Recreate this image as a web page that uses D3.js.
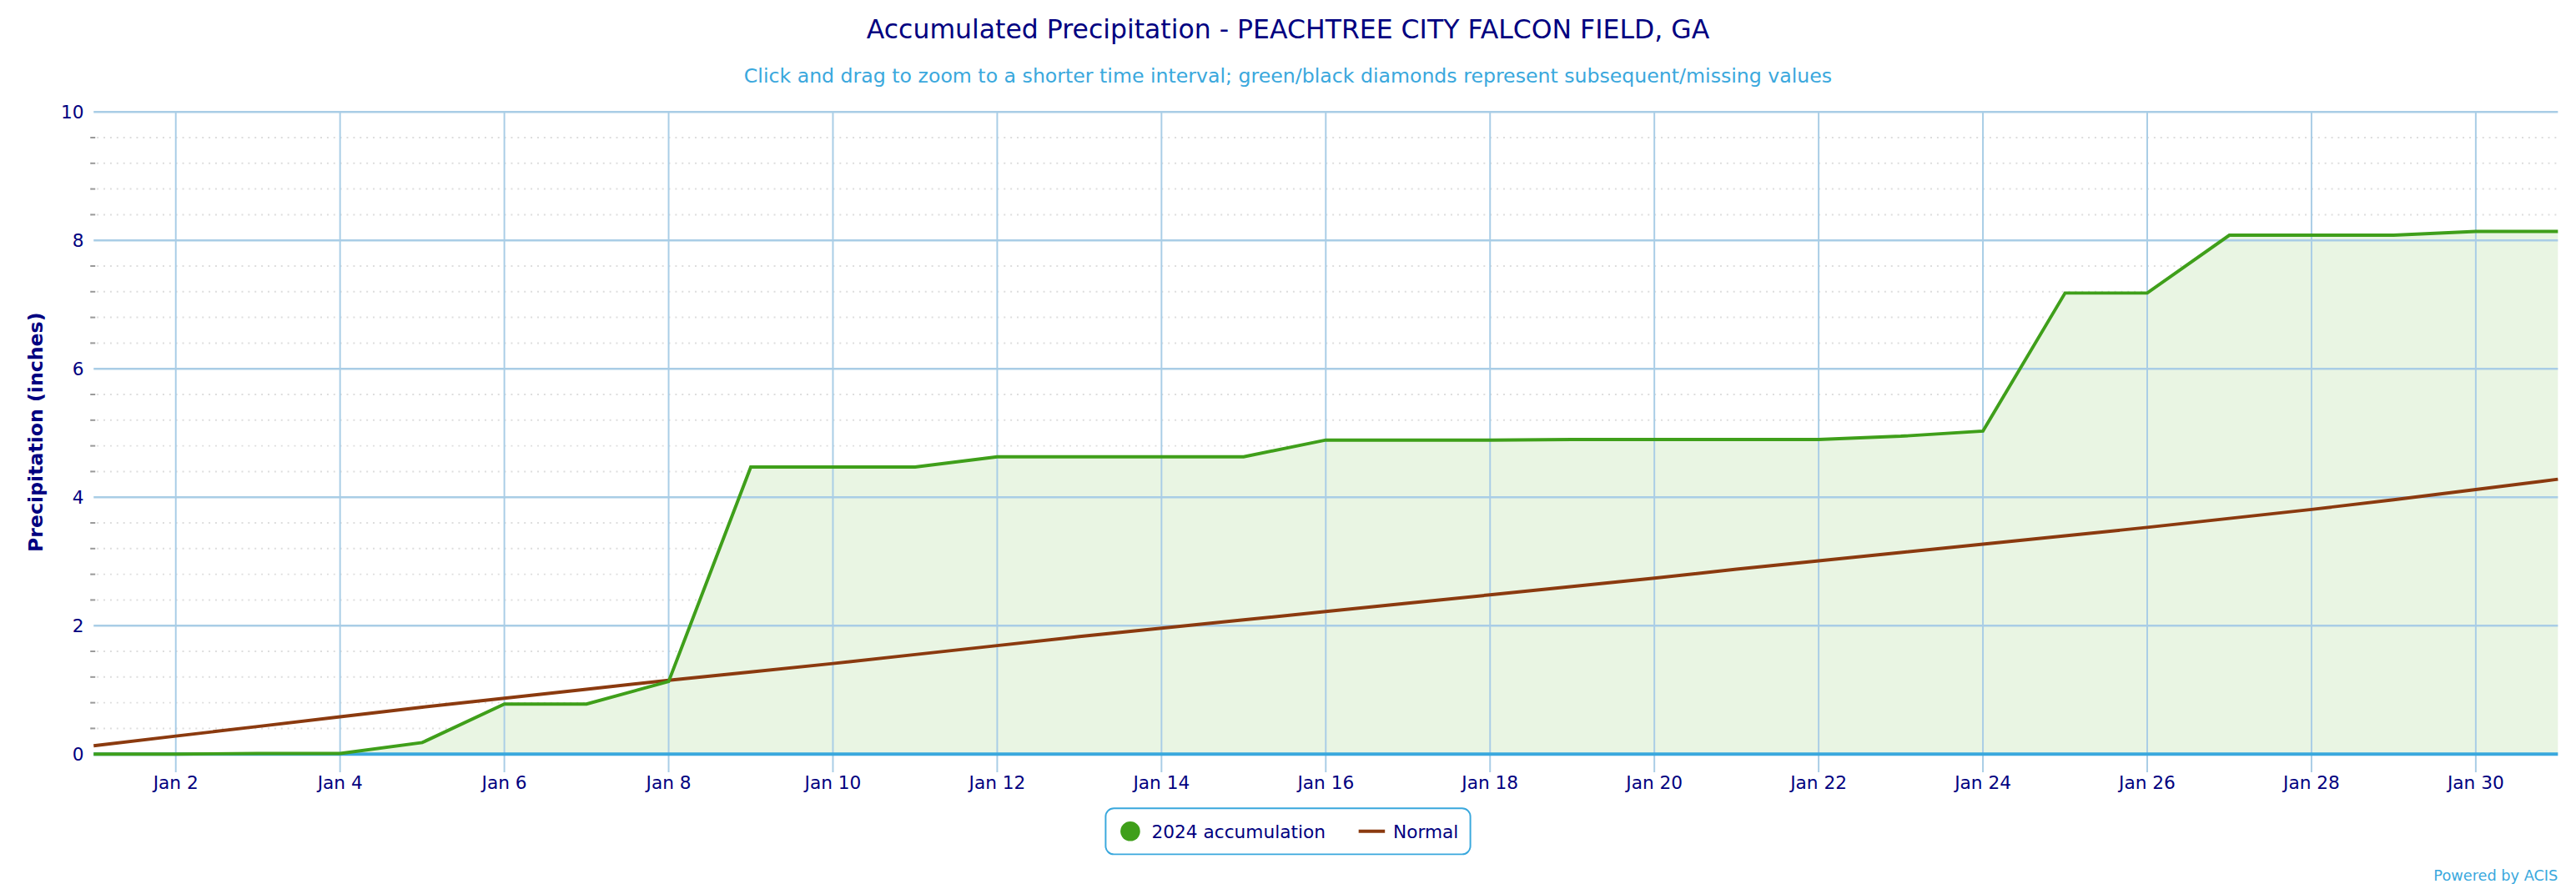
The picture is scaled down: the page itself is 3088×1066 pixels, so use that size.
<!DOCTYPE html>
<html><head><meta charset="utf-8">
<script src="https://cdn.jsdelivr.net/npm/d3@7"></script>
<style>body{margin:0;background:#fff}text{font-family:"DejaVu Sans",sans-serif}</style>
</head><body>
<svg id="chart" width="3088" height="1066" viewBox="0 0 1568 541"></svg>
<script>
// daily values, Jan 1 .. Jan 31 2024
var days = d3.range(1, 32);
var accum = [0, 0, 0.01, 0.01, 0.18, 0.78, 0.78, 1.13, 4.47, 4.47, 4.47, 4.63, 4.63, 4.63, 4.63,
  4.89, 4.89, 4.89, 4.90, 4.90, 4.90, 4.90, 4.95, 5.03, 7.18, 7.18, 8.08, 8.08, 8.08, 8.14, 8.14];
var normal = [0.13, 0.28, 0.43, 0.58, 0.73, 0.87, 1.01, 1.15, 1.28, 1.41, 1.55, 1.69, 1.83, 1.96, 2.09,
  2.22, 2.35, 2.48, 2.61, 2.74, 2.88, 3.01, 3.14, 3.27, 3.40, 3.53, 3.67, 3.81, 3.96, 4.12, 4.28];
var xTicks = [2, 4, 6, 8, 10, 12, 14, 16, 18, 20, 22, 24, 26, 28, 30];
var yTicks = [0, 2, 4, 6, 8, 10];

var svg = d3.select("#chart");
var navy = "#000080", blue = "#3aa8dd";
var x = d3.scaleLinear().domain([1, 31]).range([57, 1557]);
var y = d3.scaleLinear().domain([0, 10]).range([459, 68]);

// minor dotted grid
var minor = d3.range(0, 10.01, 0.4).filter(v => yTicks.indexOf(Math.round(v * 10) / 10) < 0);
svg.selectAll(".minor").data(minor).enter().append("line")
  .attr("x1", 55).attr("x2", 1557).attr("y1", d => y(d)).attr("y2", d => y(d))
  .attr("stroke", "#ddd").attr("stroke-dasharray", "1,3");
svg.selectAll(".mtick").data(minor).enter().append("line")
  .attr("x1", 55).attr("x2", 58).attr("y1", d => y(d)).attr("y2", d => y(d)).attr("stroke", "#999");

// area + lines
svg.append("path").datum(days)
  .attr("d", d3.area().x(d => x(d)).y0(y(0)).y1((d, i) => y(accum[i])))
  .attr("fill", "#e9f5e3");

// grid
svg.selectAll(".vg").data(xTicks).enter().append("line")
  .attr("x1", d => x(d)).attr("x2", d => x(d)).attr("y1", 68).attr("y2", 470)
  .attr("stroke", "#a9cde6").attr("stroke-width", 1);
svg.selectAll(".hg").data(yTicks.slice(1)).enter().append("line")
  .attr("x1", 57).attr("x2", 1557).attr("y1", d => y(d)).attr("y2", d => y(d))
  .attr("stroke", "#a9cde6").attr("stroke-width", 1.2);
svg.append("line").attr("x1", 57).attr("x2", 1557).attr("y1", y(0)).attr("y2", y(0))
  .attr("stroke", blue).attr("stroke-width", 2);

svg.append("path").datum(days)
  .attr("d", d3.line().x(d => x(d)).y((d, i) => y(normal[i])))
  .attr("fill", "none").attr("stroke", "#8b3a0f").attr("stroke-width", 2);
svg.append("path").datum(days)
  .attr("d", d3.line().x(d => x(d)).y((d, i) => y(accum[i])))
  .attr("fill", "none").attr("stroke", "#3f9f1a").attr("stroke-width", 2);

// axes labels
svg.selectAll(".yl").data(yTicks).enter().append("text")
  .attr("x", 51).attr("y", d => y(d) + 4).attr("text-anchor", "end")
  .attr("font-size", 11).attr("fill", navy).text(d => d);
svg.selectAll(".xl").data(xTicks).enter().append("text")
  .attr("x", d => x(d)).attr("y", 480).attr("text-anchor", "middle")
  .attr("font-size", 11).attr("fill", navy).text(d => "Jan " + d);
svg.append("text").attr("transform", "translate(26,263) rotate(-90)")
  .attr("text-anchor", "middle").attr("font-size", 12).attr("font-weight", "bold")
  .attr("fill", navy).text("Precipitation (inches)");

// titles
svg.append("text").attr("x", 784).attr("y", 23).attr("text-anchor", "middle")
  .attr("font-size", 16).attr("fill", navy)
  .text("Accumulated Precipitation - PEACHTREE CITY FALCON FIELD, GA");
svg.append("text").attr("x", 784).attr("y", 50).attr("text-anchor", "middle")
  .attr("font-size", 12).attr("fill", blue)
  .text("Click and drag to zoom to a shorter time interval; green/black diamonds represent subsequent/missing values");

// legend
var lg = svg.append("g");
lg.append("rect").attr("x", 673).attr("y", 492).attr("width", 222).attr("height", 28)
  .attr("rx", 5).attr("fill", "#fff").attr("stroke", blue).attr("stroke-width", 1);
lg.append("circle").attr("cx", 688).attr("cy", 506).attr("r", 6).attr("fill", "#3f9f1a");
lg.append("text").attr("x", 701).attr("y", 510).attr("font-size", 11).attr("fill", navy).text("2024 accumulation");
lg.append("line").attr("x1", 827).attr("x2", 843).attr("y1", 506).attr("y2", 506)
  .attr("stroke", "#8b3a0f").attr("stroke-width", 2);
lg.append("text").attr("x", 848).attr("y", 510).attr("font-size", 11).attr("fill", navy).text("Normal");

svg.append("text").attr("x", 1557).attr("y", 536).attr("text-anchor", "end")
  .attr("font-size", 9).attr("fill", blue).text("Powered by ACIS");
</script>
</body></html>
